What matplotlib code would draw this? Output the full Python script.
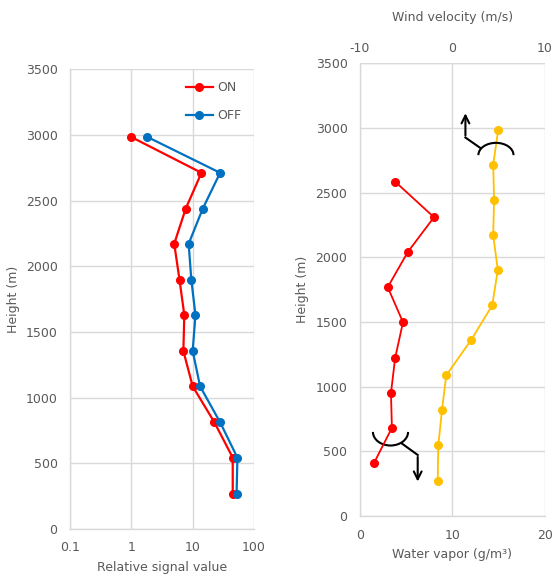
import matplotlib
matplotlib.use("Agg")
import matplotlib.pyplot as plt
from matplotlib.patches import Arc
from matplotlib.ticker import FixedLocator, FixedFormatter, NullLocator

# ------------------------
# DATA
# ------------------------
heights_signal = [2985, 2711, 2438, 2171, 1897, 1629, 1355, 1086, 812, 543, 269]
signal_on = [0.98, 13.9, 7.7, 5.0, 6.1, 7.3, 7.05, 10.0, 22.6, 45, 45]
signal_off = [1.8, 28, 14.6, 8.6, 9.5, 11.1, 10.0, 13.2, 28, 53.6, 52]

heights_wind = [2585, 2310, 2039, 1769, 1498, 1222, 951, 681, 408]
wind_velocity = [-6.2, -2.0, -4.85, -7.0, -5.35, -6.2, -6.65, -6.55, -8.5]

heights_vapor = [2988, 2715, 2444, 2171, 1903, 1629, 1359, 1088, 817, 547, 273]
water_vapor = [14.95, 14.4, 14.5, 14.4, 14.9, 14.3, 12.0, 9.33, 8.86, 8.47, 8.4]

# ------------------------
# STYLE
# ------------------------
TXT = "#595959"
GRID = "#d9d9d9"
RED = "#ff0000"
BLUE = "#0070c0"
YELLOW = "#ffc000"
plt.rcParams["font.family"] = "DejaVu Sans"
plt.rcParams["font.size"] = 9
plt.rcParams["axes.unicode_minus"] = False

fig = plt.figure(figsize=(5.54, 5.77), dpi=100)


def style_axes(ax):
    ax.grid(True, color=GRID, linewidth=1)
    ax.set_axisbelow(True)
    for s in ["top", "right"]:
        ax.spines[s].set_visible(False)
    for s in ["left", "bottom"]:
        ax.spines[s].set_color(GRID)
        ax.spines[s].set_linewidth(1)
    ax.tick_params(length=0, colors=TXT, labelsize=9, pad=9)


# ------------------------
# LEFT: relative signal
# ------------------------
ax1 = fig.add_axes([0.1264, 0.0832, 0.3321, 0.797])
style_axes(ax1)
ax1.set_xscale("log")
ax1.set_xlim(0.1, 100)
ax1.set_ylim(0, 3500)
ax1.set_yticks(range(0, 3501, 500))
ax1.xaxis.set_major_locator(FixedLocator([0.1, 1, 10, 100]))
ax1.xaxis.set_major_formatter(FixedFormatter(["0.1", "1", "10", "100"]))
ax1.xaxis.set_minor_locator(NullLocator())
ax1.plot(signal_on, heights_signal, color=RED, lw=1.6, marker="o", ms=5.5, label="ON", clip_on=False)
ax1.plot(signal_off, heights_signal, color=BLUE, lw=1.6, marker="o", ms=5.5, label="OFF", clip_on=False)
ax1.set_xlabel("Relative signal value", color=TXT, fontsize=9, labelpad=5)
ax1.set_ylabel("Height (m)", color=TXT, fontsize=9, labelpad=4)
leg = ax1.legend(loc="upper right", bbox_to_anchor=(0.99, 0.998), frameon=False,
                 handlelength=2.2, handletextpad=0.3, labelspacing=1.2, fontsize=9)
for t in leg.get_texts():
    t.set_color(TXT)

# ------------------------
# RIGHT: water vapor + wind
# ------------------------
ax2 = fig.add_axes([0.6498, 0.1057, 0.3339, 0.7846])
style_axes(ax2)
ax2.set_xlim(0, 20)
ax2.set_ylim(0, 3500)
ax2.set_xticks([0, 10, 20])
ax2.set_yticks(range(0, 3501, 500))
ax2.axhline(3500, color=GRID, lw=1, zorder=0)
ax2.plot(water_vapor, heights_vapor, color=YELLOW, lw=1.3, marker="o", ms=5.5, zorder=3)
ax2.set_xlabel("Water vapor (g/m³)", color=TXT, fontsize=9, labelpad=5)
ax2.set_ylabel("Height (m)", color=TXT, fontsize=9, labelpad=5)

ax3 = ax2.twiny()
ax3.set_xlim(-10, 10)
ax3.set_xticks([-10, 0, 10])
for s in ax3.spines.values():
    s.set_visible(False)
ax3.tick_params(length=0, colors=TXT, labelsize=9, pad=6)
ax3.plot(wind_velocity, heights_wind, color=RED, lw=1.3, marker="o", ms=5.5, zorder=3)
ax3.set_xlabel("Wind velocity (m/s)", color=TXT, fontsize=9, labelpad=15)

# wind-direction sketches (arc + bent arrow), in water-vapor/height units
ax2.add_patch(Arc((14.7, 2790), 3.8, 190, theta1=0, theta2=180, color="black", lw=1.5, zorder=4))
ax2.plot([13.0, 11.4], [2846, 2926], color="black", lw=1.5, zorder=4)
ax2.annotate("", xy=(11.4, 3135), xytext=(11.4, 2920),
             arrowprops=dict(arrowstyle="->", color="black", lw=1.5, mutation_scale=14), zorder=4)

ax2.add_patch(Arc((3.3, 650), 3.8, 210, theta1=180, theta2=360, color="black", lw=1.5, zorder=4))
ax2.plot([4.5, 6.24], [562, 472], color="black", lw=1.5, zorder=4)
ax2.annotate("", xy=(6.24, 245), xytext=(6.24, 478),
             arrowprops=dict(arrowstyle="->", color="black", lw=1.5, mutation_scale=14), zorder=4)

fig.savefig("out.png", dpi=100, facecolor="white")
